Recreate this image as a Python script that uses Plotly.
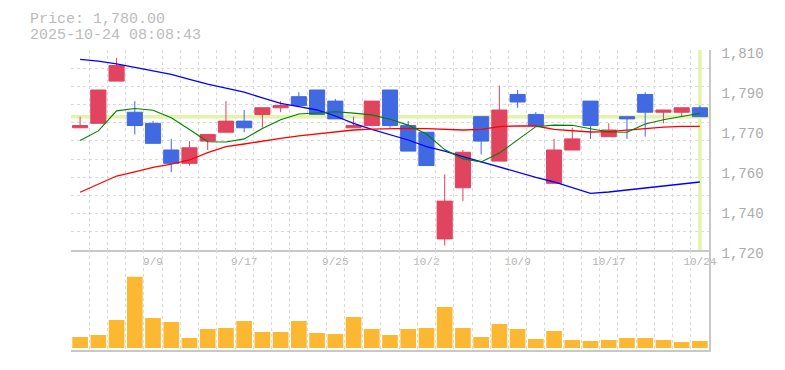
import plotly.graph_objects as go

dates = ["9/3", "9/4", "9/5", "9/8", "9/9", "9/10", "9/11", "9/12", "9/16", "9/17",
         "9/18", "9/19", "9/22", "9/24", "9/25", "9/26", "9/29", "9/30", "10/1", "10/2",
         "10/3", "10/6", "10/7", "10/8", "10/9", "10/10", "10/14", "10/15", "10/16", "10/17",
         "10/20", "10/21", "10/22", "10/23", "10/24"]

opens = [1775, 1777, 1796, 1782, 1777, 1765, 1759, 1769, 1773, 1778,
         1781, 1784, 1789, 1792, 1787, 1775, 1776, 1792, 1776, 1773,
         1725, 1748, 1780, 1760, 1790, 1781, 1750, 1765, 1787, 1771,
         1780, 1790, 1782, 1782, 1784]
highs = [1780, 1792, 1806.5, 1787, 1778, 1770, 1769, 1772, 1787, 1783,
         1784, 1787, 1791, 1792, 1788, 1780, 1787, 1792, 1778, 1773,
         1754, 1765, 1780, 1794, 1792, 1782, 1770, 1775, 1787, 1777,
         1780, 1791, 1783, 1784, 1785]
lows = [1775, 1777, 1796, 1772, 1768, 1755, 1758, 1765, 1773, 1773,
        1775, 1782, 1785, 1781, 1779, 1775, 1776, 1775, 1764.5, 1758,
        1722, 1742, 1763, 1760, 1784, 1776, 1750, 1765, 1770, 1771,
        1770, 1771, 1777, 1780, 1780]
closes = [1776, 1792, 1803, 1776, 1768, 1759, 1766, 1772, 1778, 1775,
          1784, 1785, 1785, 1781, 1779, 1776, 1787, 1776, 1764.5, 1758,
          1742, 1764, 1769, 1783, 1786.6, 1776, 1765, 1770, 1776, 1774,
          1779, 1782, 1783, 1784, 1780]

volumes = [11000, 13000, 28000, 71300, 30000, 26000, 10000, 19000, 20000, 27000,
           16000, 16000, 27000, 15000, 14000, 31000, 19000, 13000, 19000, 20000,
           41000, 20000, 11000, 24000, 19000, 9000, 17000, 8000, 7000, 8000,
           10000, 10000, 8000, 6000, 7000]

ma5 = [1769.3, 1773.6, 1782.6, 1783.7, 1782.9, 1779.5, 1774.2, 1768.7, 1768.6, 1770.0,
       1774.7, 1778.6, 1781.2, 1781.8, 1782.2, 1781.6, 1780.8, 1778.8, 1776.2, 1772.2,
       1765.2, 1761.0, 1759.6, 1763.6, 1769.5, 1775.5, 1776.2, 1776.1, 1774.6, 1773.1,
       1773.0, 1776.7, 1778.6, 1780.1, 1781.5]
ma25 = [1746.0, 1749.5, 1753.3, 1755.2, 1757.2, 1758.6, 1760.5, 1763.8, 1766.5, 1767.7,
        1768.8, 1770.2, 1771.4, 1772.2, 1773.1, 1774.0, 1774.4, 1774.6, 1774.7, 1774.6,
        1774.3, 1774.0, 1774.3, 1775.5, 1775.9, 1775.8, 1774.3, 1773.7, 1773.1, 1773.3,
        1774.0, 1774.9, 1775.3, 1775.6, 1775.6]
ma75 = [1805.8, 1805.0, 1803.8, 1802.3, 1800.8, 1799.0, 1796.8, 1794.6, 1792.8, 1791.0,
        1788.5, 1786.0, 1784.5, 1783.0, 1780.3, 1777.0, 1774.3, 1772.0, 1769.5, 1766.5,
        1764.5, 1762.0, 1759.6, 1757.2, 1755.0, 1752.7, 1750.6, 1747.9, 1745.5, 1746.1,
        1747.0, 1747.8, 1748.6, 1749.7, 1750.6]

price_ticks = [1720, 1738, 1756, 1774, 1792, 1810]
price_ticktext = ["1,720", "1,740", "1,760", "1,770", "1,790", "1,810"]
last_price = 1780
header_lines = ["Price: 1,780.00", "2025-10-24 08:08:43"]

n = len(dates)
xs = list(range(n))
label_idx = [i for i in xs if (n - 1 - i) % 5 == 0]

FONT = "Liberation Mono"
GRID = "#d9d9d9"
AXIS = "#c8c8c8"
RED = "#E0445E"
BLUE = "#4169E1"

fig = go.Figure()

fig.add_trace(go.Scatter(x=xs, y=ma75, mode="lines", line=dict(color="#0000FF", width=1.3),
                         xaxis="x", yaxis="y", hoverinfo="skip"))
fig.add_trace(go.Scatter(x=xs, y=ma25, mode="lines", line=dict(color="#FF0000", width=1.3),
                         xaxis="x", yaxis="y", hoverinfo="skip"))
fig.add_trace(go.Scatter(x=xs, y=ma5, mode="lines", line=dict(color="#008000", width=1.1),
                         xaxis="x", yaxis="y", hoverinfo="skip"))

fig.add_trace(go.Candlestick(
    x=xs, open=opens, high=highs, low=lows, close=closes,
    increasing=dict(line=dict(color=RED, width=1), fillcolor=RED),
    decreasing=dict(line=dict(color=BLUE, width=1), fillcolor=BLUE),
    whiskerwidth=0, xaxis="x", yaxis="y"))

fig.add_trace(go.Bar(x=xs, y=volumes, marker=dict(color="#FDB833", line=dict(width=0)),
                     xaxis="x2", yaxis="y2"))

xr = [-0.5, n - 0.5]

fig.update_layout(
    width=785, height=370,
    margin=dict(l=71, r=75.5, t=50, b=20, autoexpand=False),
    paper_bgcolor="white", plot_bgcolor="white",
    showlegend=False,
    hovermode=False,
    boxgap=0.17,
    boxgroupgap=0,
    bargap=0.14,
    font=dict(family=FONT, color="#aaaaaa"),
    xaxis=dict(domain=[0, 1], anchor="y", range=xr, rangeslider=dict(visible=False),
               tickvals=label_idx, ticktext=[dates[i] for i in label_idx],
               showgrid=False, ticks="", showline=True, linecolor=AXIS, linewidth=1.5,
               tickfont=dict(family=FONT, size=11, color="#b4b4b4"),
               minor=dict(tick0=-0.5, dtick=1, showgrid=True, gridcolor=GRID,
                          griddash="3px,3px", gridwidth=1),
               zeroline=False, fixedrange=True, automargin=False),
    yaxis=dict(domain=[1/3, 1], anchor="x", side="right", range=[1720, 1810],
               tickvals=price_ticks, ticktext=price_ticktext, showgrid=False,
               ticks="", ticklabelstandoff=8, ticklabelshift=3,
               tickfont=dict(family=FONT, size=14, color="#acacac"),
               showline=True, linecolor=AXIS, linewidth=1.5,
               minor=dict(tick0=1720, dtick=90/11, showgrid=True, gridcolor=GRID,
                          griddash="3px,3px", gridwidth=1),
               zeroline=False, fixedrange=True, automargin=False),
    xaxis2=dict(domain=[0, 1], anchor="y2", range=xr, showticklabels=False, ticks="",
                showgrid=False, showline=True, linecolor=AXIS, linewidth=1.5,
                minor=dict(tick0=-0.5, dtick=1, showgrid=True, gridcolor=GRID,
                           griddash="3px,3px", gridwidth=1),
                zeroline=False, fixedrange=True, automargin=False),
    yaxis2=dict(domain=[0, 1/3], anchor="x2", side="right", range=[-2000, 98000],
                showticklabels=False, ticks="", showgrid=False, showline=True,
                linecolor=AXIS, linewidth=1.5, zeroline=False, fixedrange=True,
                automargin=False),
    shapes=[
        dict(type="line", xref="x", yref="y", x0=xr[0], x1=xr[1], y0=last_price, y1=last_price,
             line=dict(color="#E2F4A8", width=3.5), layer="between"),
        dict(type="line", xref="x", yref="y", x0=n - 1, x1=n - 1, y0=1720, y1=1810,
             line=dict(color="#E2F4A8", width=3.5), layer="between"),
    ],
    annotations=[
        dict(text=header_lines[0], xref="paper", yref="paper", x=-43/638.5, y=1 + 30/300,
             xanchor="left", yanchor="middle", showarrow=False,
             font=dict(family=FONT, size=15, color="#bbbbbb")),
        dict(text=header_lines[1], xref="paper", yref="paper", x=-43/638.5, y=1 + 14.5/300,
             xanchor="left", yanchor="middle", showarrow=False,
             font=dict(family=FONT, size=15, color="#bbbbbb")),
    ],
)

fig.write_html("out.html", config={"displayModeBar": False},
               post_script="document.body.style.margin='0px';")
